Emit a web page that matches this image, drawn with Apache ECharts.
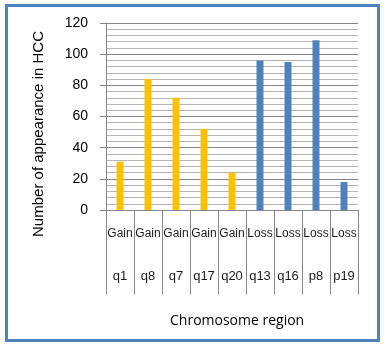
<!DOCTYPE html>
<html>
<head>
<meta charset="utf-8">
<script src="https://cdn.jsdelivr.net/npm/echarts@6/dist/echarts.min.js"></script>
<style>
  html, body { margin: 0; padding: 0; background: #fff; }
  #main { width: 384px; height: 347px; }
</style>
</head>
<body>
<div id="main"></div>
<script>
// chart data
var regions = ['q1', 'q8', 'q7', 'q17', 'q20', 'q13', 'q16', 'p8', 'p19'];
var groups = ['Gain', 'Gain', 'Gain', 'Gain', 'Gain', 'Loss', 'Loss', 'Loss', 'Loss'];
var counts = [31, 84, 72, 52, 24, 96, 95, 109, 18];
var yTicks = [0, 20, 40, 60, 80, 100, 120];

var groupColor = { Gain: '#FFC000', Loss: '#4F81BD' };

var myChart = echarts.init(document.getElementById('main'));

var barData = counts.map(function (v, i) {
    return { value: v, itemStyle: { color: groupColor[groups[i]] } };
});

var option = {
    animation: false,
    grid: { left: 106, top: 23, right: 26, bottom: 137 },
    xAxis: {
        type: 'category',
        data: regions,
        boundaryGap: true,
        axisLine: { lineStyle: { color: '#868686', width: 1 } },
        axisTick: { show: true, length: 84, interval: 0, lineStyle: { color: '#868686' } },
        axisLabel: {
            interval: 0,
            margin: 2,
            formatter: function (val, idx) {
                return '{g|' + groups[idx] + '}\n{r|' + val + '}';
            },
            rich: {
                g: { fontFamily: 'Liberation Sans', fontSize: 12, color: '#1a1a1a', lineHeight: 43 },
                r: { fontFamily: 'Liberation Sans', fontSize: 13, color: '#1a1a1a', lineHeight: 43 }
            }
        }
    },
    yAxis: {
        type: 'value',
        min: yTicks[0],
        max: yTicks[yTicks.length - 1],
        interval: 20,
        axisLine: { show: true, lineStyle: { color: '#868686' } },
        axisTick: { show: true, length: 6, lineStyle: { color: '#868686' } },
        axisLabel: { margin: 18, fontFamily: 'Liberation Sans', fontSize: 14, color: '#000' },
        splitLine: { lineStyle: { color: '#868686' } },
        minorTick: { show: false, splitNumber: 5 },
        minorSplitLine: { show: true, lineStyle: { color: '#b5b5b5' } }
    },
    series: [{
        type: 'bar',
        data: barData,
        barWidth: 7
    }],
    graphic: [
        {
            type: 'text',
            x: 39,
            y: 134,
            rotation: Math.PI / 2,
            style: {
                text: 'Number of appearance in HCC',
                font: '15px "Liberation Sans"',
                fill: '#000',
                textAlign: 'center',
                textVerticalAlign: 'middle'
            }
        },
        {
            type: 'text',
            left: 170,
            top: 314,
            style: { text: 'Chromosome region', font: '14px "Open Sans"', fill: '#000' }
        },
        {
            type: 'rect',
            shape: { x: 6.5, y: 5.5, width: 372, height: 335 },
            style: { fill: 'none', stroke: '#4F81BD', lineWidth: 3 },
            z: 100
        }
    ]
};

myChart.setOption(option);
</script>
</body>
</html>
